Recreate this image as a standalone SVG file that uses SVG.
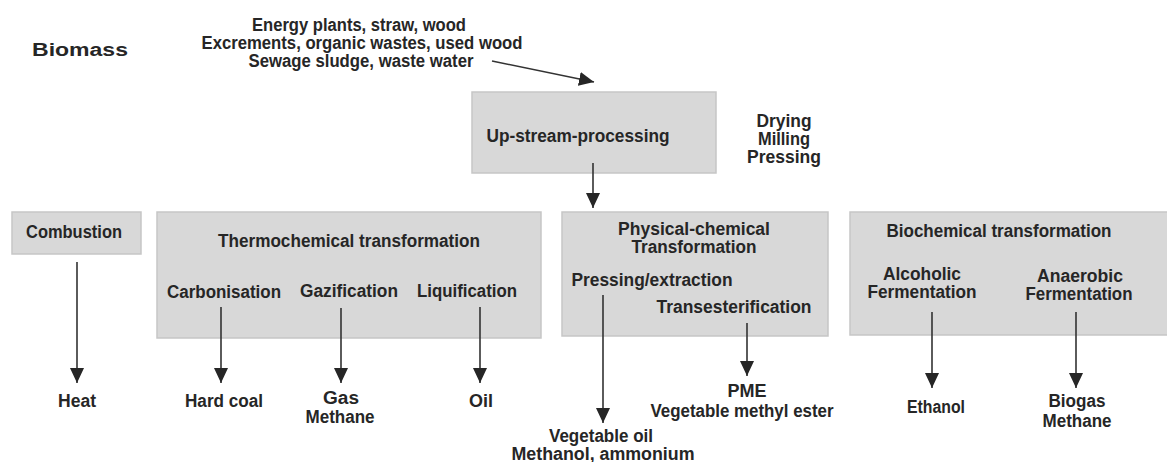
<svg xmlns="http://www.w3.org/2000/svg" width="1167" height="462" viewBox="0 0 1167 462">
<style>
text{font-family:"Liberation Sans",Arial,sans-serif;font-weight:bold;font-size:18px;fill:#262626;text-anchor:middle}
.box{fill:#d8d8d8;stroke:#c6c6c6;stroke-width:1.5}
.arr{stroke:#333;stroke-width:1.6;fill:none;marker-end:url(#ah)}
</style>
<defs>
<marker id="ah" markerWidth="15" markerHeight="14" refX="15" refY="7" orient="auto" markerUnits="userSpaceOnUse" viewBox="0 0 15 14">
<path d="M0,0 L15,7 L0,14 Z" fill="#262626"/>
</marker>
</defs>
<rect width="1167" height="462" fill="#fff"/>
<g id="biomass"><text x="80" y="56" font-size="20" textLength="96" lengthAdjust="spacingAndGlyphs">Biomass</text></g>
<g id="sources">
<text x="359" y="31" textLength="214" lengthAdjust="spacingAndGlyphs">Energy plants, straw, wood</text>
<text x="362" y="49" textLength="321" lengthAdjust="spacingAndGlyphs">Excrements, organic wastes, used wood</text>
<text x="361" y="67" textLength="225" lengthAdjust="spacingAndGlyphs">Sewage sludge, waste water</text>
</g>
<g id="upstream">
<rect class="box" x="472" y="92" width="244" height="81"/>
<text x="578" y="142" textLength="183" lengthAdjust="spacingAndGlyphs">Up-stream-processing</text>
</g>
<g id="steps">
<text x="784" y="127" textLength="55" lengthAdjust="spacingAndGlyphs">Drying</text>
<text x="784" y="145" textLength="52" lengthAdjust="spacingAndGlyphs">Milling</text>
<text x="784" y="163" textLength="74" lengthAdjust="spacingAndGlyphs">Pressing</text>
</g>
<g id="combustion">
<rect class="box" x="12" y="212" width="129" height="42"/>
<text x="74" y="238" textLength="96" lengthAdjust="spacingAndGlyphs">Combustion</text>
</g>
<g id="thermo">
<rect class="box" x="157" y="212" width="384" height="126"/>
<text x="349" y="247" textLength="262" lengthAdjust="spacingAndGlyphs">Thermochemical transformation</text>
<text x="224" y="298" textLength="114" lengthAdjust="spacingAndGlyphs">Carbonisation</text>
<text x="349" y="297" textLength="98" lengthAdjust="spacingAndGlyphs">Gazification</text>
<text x="467" y="297" textLength="100" lengthAdjust="spacingAndGlyphs">Liquification</text>
</g>
<g id="physical">
<rect class="box" x="562" y="212" width="266" height="124"/>
<text x="694" y="235" textLength="152" lengthAdjust="spacingAndGlyphs">Physical-chemical</text>
<text x="694" y="253" textLength="125" lengthAdjust="spacingAndGlyphs">Transformation</text>
<text x="652" y="286" textLength="161" lengthAdjust="spacingAndGlyphs">Pressing/extraction</text>
<text x="734" y="313" textLength="155" lengthAdjust="spacingAndGlyphs">Transesterification</text>
</g>
<g id="biochem">
<rect class="box" x="850" y="212" width="318" height="123"/>
<text x="999" y="237" textLength="225" lengthAdjust="spacingAndGlyphs">Biochemical transformation</text>
<text x="922" y="280" textLength="78" lengthAdjust="spacingAndGlyphs">Alcoholic</text>
<text x="922" y="298" textLength="109" lengthAdjust="spacingAndGlyphs">Fermentation</text>
<text x="1080" y="282" textLength="86" lengthAdjust="spacingAndGlyphs">Anaerobic</text>
<text x="1079" y="300" textLength="107" lengthAdjust="spacingAndGlyphs">Fermentation</text>
</g>
<g id="heat"><text x="77" y="407" textLength="38" lengthAdjust="spacingAndGlyphs">Heat</text></g>
<g id="hardcoal"><text x="224" y="407" textLength="78" lengthAdjust="spacingAndGlyphs">Hard coal</text></g>
<g id="gas"><text x="341" y="404" textLength="36" lengthAdjust="spacingAndGlyphs">Gas</text><text x="340" y="423" textLength="69" lengthAdjust="spacingAndGlyphs">Methane</text></g>
<g id="oil"><text x="481" y="407" textLength="24" lengthAdjust="spacingAndGlyphs">Oil</text></g>
<g id="vegoil"><text x="601" y="442" textLength="104" lengthAdjust="spacingAndGlyphs">Vegetable oil</text><text x="603" y="460" textLength="183" lengthAdjust="spacingAndGlyphs">Methanol, ammonium</text></g>
<g id="pme"><text x="747" y="397" textLength="39" lengthAdjust="spacingAndGlyphs">PME</text><text x="742" y="417" textLength="183" lengthAdjust="spacingAndGlyphs">Vegetable methyl ester</text></g>
<g id="ethanol"><text x="936" y="413" textLength="58" lengthAdjust="spacingAndGlyphs">Ethanol</text></g>
<g id="biogas"><text x="1077" y="407" textLength="57" lengthAdjust="spacingAndGlyphs">Biogas</text><text x="1077" y="427" textLength="69" lengthAdjust="spacingAndGlyphs">Methane</text></g>
<g id="connectors">
<line class="arr" x1="492" y1="61" x2="594" y2="82"/>
<line class="arr" x1="593" y1="163" x2="593" y2="208"/>
<line class="arr" x1="77" y1="262" x2="77" y2="383"/>
<line class="arr" x1="221" y1="307" x2="221" y2="383"/>
<line class="arr" x1="341" y1="308" x2="341" y2="383"/>
<line class="arr" x1="480" y1="307" x2="480" y2="383"/>
<line class="arr" x1="603" y1="295" x2="603" y2="423"/>
<line class="arr" x1="747" y1="323" x2="747" y2="376"/>
<line class="arr" x1="932" y1="312" x2="932" y2="388"/>
<line class="arr" x1="1076" y1="312" x2="1076" y2="388"/>
</g>
</svg>
